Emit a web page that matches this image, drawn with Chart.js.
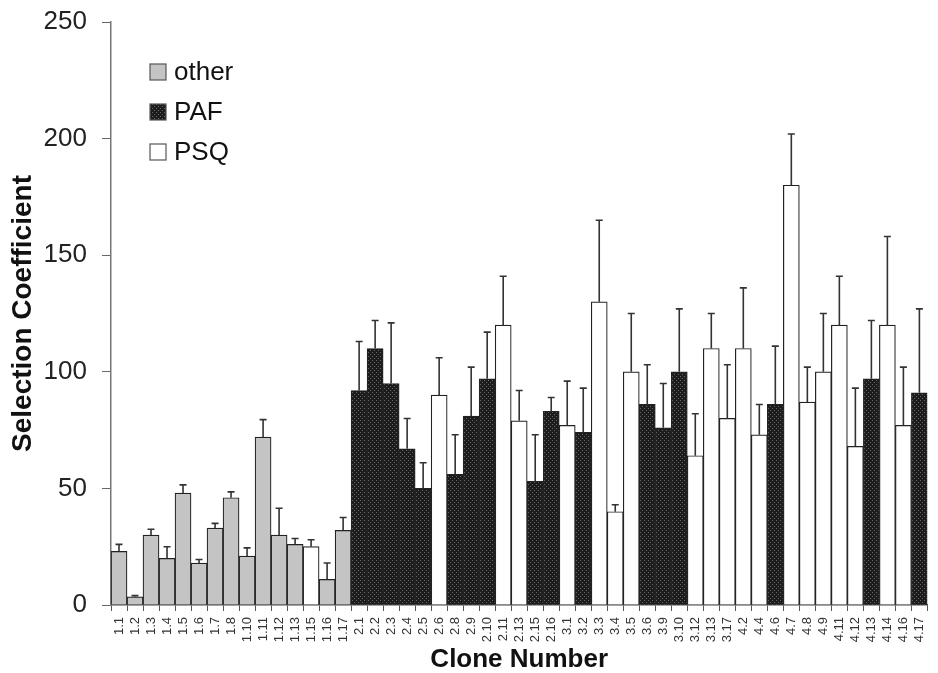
<!DOCTYPE html>
<html>
<head>
<meta charset="utf-8">
<script src="https://cdn.jsdelivr.net/npm/chart.js@4/dist/chart.umd.min.js"></script>
<style>
  html, body { margin: 0; padding: 0; background: #fff; overflow: hidden; }
  #wrap { width: 941px; height: 673px; }
</style>
</head>
<body>
<div id="wrap"><canvas id="chart"></canvas></div>
<script>
const clones = ['1.1','1.2','1.3','1.4','1.5','1.6','1.7','1.8','1.10','1.11','1.12','1.13','1.15','1.16','1.17',
  '2.1','2.2','2.3','2.4','2.5','2.6','2.8','2.9','2.10','2.11','2.13','2.15','2.16',
  '3.1','3.2','3.3','3.4','3.5','3.6','3.9','3.10','3.12','3.13','3.17',
  '4.2','4.4','4.6','4.7','4.8','4.9','4.11','4.12','4.13','4.14','4.16','4.17'];

const groups = ['other','other','other','other','other','other','other','other','other','other','other','other','PSQ','other','other',
  'PAF','PAF','PAF','PAF','PAF','PSQ','PAF','PAF','PAF','PSQ','PSQ','PAF','PAF',
  'PSQ','PAF','PSQ','PSQ','PSQ','PAF','PAF','PAF','PSQ','PSQ','PSQ',
  'PSQ','PSQ','PAF','PSQ','PSQ','PSQ','PSQ','PSQ','PAF','PSQ','PSQ','PAF'];

const selection = [23, 3.5, 30, 20, 48, 18, 33, 46, 21, 72, 30, 26, 25, 11, 32,
  92, 110, 95, 67, 50, 90, 56, 81, 97, 120, 79, 53, 83,
  77, 74, 130, 40, 100, 86, 76, 100, 64, 110, 80,
  110, 73, 86, 180, 87, 100, 120, 68, 97, 120, 77, 91];

const errors = [3, 0.5, 2.5, 5, 3.5, 1.5, 2, 2.5, 3.5, 7.5, 11.5, 2.5, 3, 7, 5.5,
  21, 12, 26, 13, 11, 16, 17, 21, 20, 21, 13, 20, 6,
  19, 19, 35, 3, 25, 17, 19, 27, 18, 15, 23,
  26, 13, 25, 22, 15, 25, 21, 25, 25, 38, 25, 36];

const legendNames = ['other', 'PAF', 'PSQ'];
const yTicks = [0, 50, 100, 150, 200, 250];

// dotted dark fill for PAF bars
function makeDots() {
    let c = document.createElement('canvas');
    c.width = 4;
    c.height = 4;
    let g = c.getContext('2d');
    g.fillStyle = '#1c1c1c';
    g.fillRect(0, 0, 4, 4);
    g.fillStyle = '#6a6a6a';
    g.fillRect(0, 0, 1, 1);
    g.fillRect(2, 2, 1, 1);
    return g.createPattern(c, 'repeat');
}

const fills = {
    other: '#c4c4c4',
    PAF: makeDots(),
    PSQ: '#ffffff'
};

const errorBars = {
    id: 'errorBars',
    afterDatasetsDraw(chart) {
        let ctx = chart.ctx;
        let y = chart.scales.y;
        let meta = chart.getDatasetMeta(0);
        ctx.save();
        ctx.strokeStyle = '#333';
        ctx.lineWidth = 1.6;
        meta.data.forEach((bar, i) => {
            let y0 = y.getPixelForValue(selection[i]);
            let y1 = y.getPixelForValue(selection[i] + errors[i]);
            ctx.beginPath();
            ctx.moveTo(bar.x, y0);
            ctx.lineTo(bar.x, y1);
            ctx.moveTo(bar.x - 3.5, y1);
            ctx.lineTo(bar.x + 3.5, y1);
            ctx.stroke();
        });
        ctx.restore();
    }
};

const boxLegend = {
    id: 'boxLegend',
    afterDraw(chart) {
        let ctx = chart.ctx;
        ctx.save();
        ctx.font = '26px "Liberation Sans", Arial, sans-serif';
        ctx.textBaseline = 'middle';
        legendNames.forEach((name, i) => {
            let cy = 72 + i * 40;
            ctx.fillStyle = fills[name];
            ctx.fillRect(150, cy - 8, 16, 16);
            ctx.strokeStyle = '#555';
            ctx.lineWidth = 1.2;
            ctx.strokeRect(150, cy - 8, 16, 16);
            ctx.fillStyle = '#111';
            ctx.fillText(name, 174, cy + 1);
        });
        ctx.restore();
    }
};

const ctx = document.getElementById('chart').getContext('2d');

new Chart(ctx, {
    type: 'bar',
    data: {
        labels: clones,
        datasets: [{
            data: selection,
            backgroundColor: groups.map(g => fills[g]),
            borderColor: '#222',
            borderWidth: 1.2,
            categoryPercentage: 1,
            barPercentage: 1
        }]
    },
    options: {
        responsive: true,
        maintainAspectRatio: false,
        animation: false,
        layout: { padding: { top: 22, right: 0, left: 0, bottom: 0 } },
        plugins: {
            legend: { display: false },
            tooltip: { enabled: false }
        },
        scales: {
            x: {
                afterFit: s => { s.height = 68; },
                grid: { drawOnChartArea: false, tickLength: 6, color: '#555' },
                border: { color: '#444', width: 1.5 },
                ticks: {
                    autoSkip: false,
                    maxRotation: 90,
                    minRotation: 90,
                    padding: 6,
                    color: '#333',
                    font: { family: '"Liberation Sans", Arial, sans-serif', size: 13 }
                },
                title: {
                    display: true,
                    text: 'Clone Number',
                    color: '#111',
                    padding: { top: 0, bottom: 0 },
                    font: { family: '"Liberation Sans", Arial, sans-serif', size: 26, weight: 'bold', lineHeight: 1 }
                }
            },
            y: {
                min: 0,
                max: 250,
                afterFit: s => {
                    s.width = 111;
                    s.paddingTop = 0;
                    s.paddingBottom = 0;
                },
                afterBuildTicks: s => { s.ticks = yTicks.map(v => ({ value: v })); },
                grid: { drawOnChartArea: false, tickLength: 9, color: '#666' },
                border: { color: '#777', width: 1.5 },
                ticks: {
                    padding: 15,
                    color: '#222',
                    font: { family: '"Liberation Sans", Arial, sans-serif', size: 26 }
                },
                title: {
                    display: true,
                    text: 'Selection Coefficient',
                    color: '#111',
                    padding: { top: 6, bottom: 0 },
                    font: { family: '"Liberation Sans", Arial, sans-serif', size: 28, weight: 'bold' }
                }
            }
        }
    },
    plugins: [errorBars, boxLegend]
});
</script>
</body>
</html>
